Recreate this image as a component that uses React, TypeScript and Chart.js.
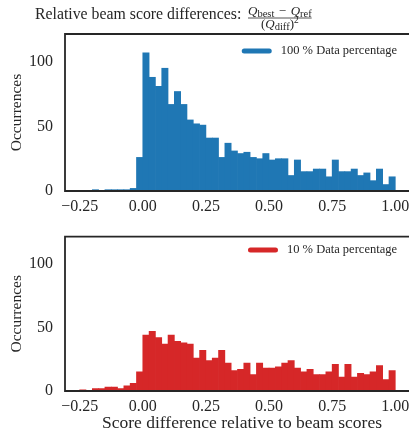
import React, { useEffect, useRef } from "react";
import { Chart, registerables } from "chart.js";

Chart.register(...registerables);

// ---- data ----
const binCenters = [
  -0.2875, -0.2625, -0.2375, -0.2125, -0.1875, -0.1625, -0.1375, -0.1125, -0.0875, -0.0625, -0.0375, -0.0125,
  0.0125, 0.0375, 0.0625, 0.0875, 0.1125, 0.1375, 0.1625, 0.1875, 0.2125, 0.2375,
  0.2625, 0.2875, 0.3125, 0.3375, 0.3625, 0.3875, 0.4125, 0.4375, 0.4625, 0.4875,
  0.5125, 0.5375, 0.5625, 0.5875, 0.6125, 0.6375, 0.6625, 0.6875, 0.7125, 0.7375,
  0.7625, 0.7875, 0.8125, 0.8375, 0.8625, 0.8875, 0.9125, 0.9375, 0.9625, 0.9875,
];

const counts100 = [
  0, 0, 0, 0, 1, 0, 1, 1, 1, 1, 2, 26,
  107, 88, 81, 95, 67, 77, 67, 55, 52, 51,
  41, 41, 26, 37, 31, 29, 30, 26, 25, 29,
  24, 25, 25, 12, 24, 15, 15, 17, 17, 11,
  24, 15, 15, 17, 12, 14, 8, 17, 5, 11,
];

const counts10 = [
  0, 0, 1, 0, 2, 2, 3, 3, 2, 4, 6, 15,
  44, 47, 42, 37, 44, 39, 38, 37, 26, 32,
  24, 26, 32, 22, 16, 17, 22, 13, 22, 18,
  18, 19, 22, 24, 18, 15, 17, 13, 13, 15,
  21, 11, 21, 11, 14, 13, 15, 20, 9, 16,
];

const xTickValues = [-0.25, 0, 0.25, 0.5, 0.75, 1.0];
const xTickLabels = ["\u22120.25", "0.00", "0.25", "0.50", "0.75", "1.00"];
const yTickValues = [0, 50, 100];
const yTickLabels = ["0", "50", "100"];

const titleText = "Relative beam score differences:";
const yAxisLabel = "Occurrences";
const xAxisLabel = "Score difference relative to beam scores";
const legend100 = "100 % Data percentage";
const legend10 = "10 % Data percentage";

// ---- styles ----
const FONT = '"Liberation Serif", "Times New Roman", serif';
const TEXT = "#262626";
const SPINE = "#262626";
const BLUE = "#1f77b4";
const RED = "#d62728";
const X_MIN = -0.3081;
const X_MAX = 1.0939;
const Y_MAX = 121.5;
const CANVAS_W = 419;

type Run = { t: string; size: number; italic?: boolean; dy?: number; gap?: number };

function drawRuns(ctx: CanvasRenderingContext2D, runs: Run[], x: number, baseline: number, draw: boolean) {
  let cx = x;
  for (const r of runs) {
    ctx.font = `${r.italic ? "italic " : ""}${r.size}px ${FONT}`;
    if (draw) ctx.fillText(r.t, cx, baseline + (r.dy || 0));
    cx += ctx.measureText(r.t).width + (r.gap || 0);
  }
  return cx - x;
}

const titlePlugin = {
  id: "figTitle",
  afterDraw(chart: any) {
    const ctx: CanvasRenderingContext2D = chart.ctx;
    ctx.save();
    ctx.fillStyle = TEXT;
    ctx.textAlign = "left";
    ctx.textBaseline = "alphabetic";
    ctx.font = `15.8px ${FONT}`;
    ctx.fillText(titleText, 35, 18.5);
    const num: Run[] = [
      { t: "Q", size: 13, italic: true },
      { t: "best", size: 10.5, dy: 2, gap: 4.5 },
      { t: "\u2212", size: 13, gap: 4.5 },
      { t: "Q", size: 13, italic: true },
      { t: "ref", size: 10.5, dy: 2 },
    ];
    const den: Run[] = [
      { t: "(", size: 13 },
      { t: "Q", size: 13, italic: true },
      { t: "diff", size: 10.5, dy: 2 },
      { t: ")", size: 13 },
      { t: "2", size: 9.5, dy: -5 },
    ];
    const x0 = 248;
    const wn = drawRuns(ctx, num, x0, 15, false);
    const wd = drawRuns(ctx, den, 0, 0, false);
    const w = Math.max(wn, wd);
    drawRuns(ctx, num, x0 + (w - wn) / 2, 14.5, true);
    drawRuns(ctx, den, x0 + (w - wd) / 2, 28, true);
    ctx.strokeStyle = TEXT;
    ctx.lineWidth = 0.8;
    ctx.beginPath();
    ctx.moveTo(x0, 18);
    ctx.lineTo(x0 + w, 18);
    ctx.stroke();
    ctx.restore();
  },
};

const spinesPlugin = {
  id: "spines",
  afterDatasetsDraw(chart: any) {
    const { ctx, chartArea } = chart;
    const { left, top, right, bottom } = chartArea;
    ctx.save();
    ctx.strokeStyle = SPINE;
    ctx.lineWidth = 1.8;
    ctx.beginPath();
    ctx.moveTo(right, top);
    ctx.lineTo(left, top);
    ctx.lineTo(left, bottom);
    ctx.lineTo(right, bottom);
    ctx.stroke();
    ctx.restore();
  },
};

function legendPlugin(text: string, color: string, cy: number) {
  return {
    id: "customLegend",
    afterDraw(chart: any) {
      const ctx: CanvasRenderingContext2D = chart.ctx;
      ctx.save();
      ctx.font = `12.5px ${FONT}`;
      ctx.fillStyle = TEXT;
      ctx.textAlign = "right";
      ctx.textBaseline = "middle";
      const rightX = 397;
      ctx.fillText(text, rightX, cy);
      const w = ctx.measureText(text).width;
      const x1 = rightX - w - 9;
      const x0 = x1 - 30;
      ctx.strokeStyle = color;
      ctx.lineWidth = 5;
      ctx.lineCap = "round";
      ctx.beginPath();
      ctx.moveTo(x0 + 2.5, cy);
      ctx.lineTo(x1 - 2.5, cy);
      ctx.stroke();
      ctx.restore();
    },
  };
}

type PanelOpts = {
  counts: number[];
  color: string;
  legendText: string;
  legendY: number;
  padTop: number;
  xAxisHeight: number;
  showTitle: boolean;
  showXTitle: boolean;
};

function buildConfig(o: PanelOpts): any {
  const plugins: any[] = [spinesPlugin, legendPlugin(o.legendText, o.color, o.legendY)];
  if (o.showTitle) plugins.push(titlePlugin);
  return {
    type: "bar",
    data: {
      datasets: [
        {
          data: binCenters.map((x, i) => ({ x, y: o.counts[i] })),
          backgroundColor: o.color,
          borderWidth: 0,
          barPercentage: 1,
          categoryPercentage: 1,
        },
      ],
    },
    options: {
      animation: false,
      responsive: false,
      events: [],
      layout: { padding: { top: o.padTop, left: 0, right: 0, bottom: 0 } },
      plugins: {
        legend: { display: false },
        tooltip: { enabled: false },
        title: { display: false },
      },
      scales: {
        x: {
          type: "linear",
          min: X_MIN,
          max: X_MAX,
          offset: false,
          grid: { display: false, drawTicks: false },
          border: { display: false },
          afterBuildTicks: (s: any) => {
            s.ticks = xTickValues.map((v) => ({ value: v }));
          },
          afterFit: (s: any) => {
            s.height = o.xAxisHeight;
          },
          ticks: {
            callback: (_v: any, i: number) => xTickLabels[i],
            font: { family: FONT, size: 16 },
            color: TEXT,
            padding: 6,
            maxRotation: 0,
            autoSkip: false,
          },
          title: {
            display: o.showXTitle,
            text: xAxisLabel,
            font: { family: FONT, size: 17.5 },
            color: TEXT,
            padding: { top: 0, bottom: 2.5 },
          },
        },
        y: {
          min: 0,
          max: Y_MAX,
          grid: { display: false, drawTicks: false },
          border: { display: false },
          afterBuildTicks: (s: any) => {
            s.ticks = yTickValues.map((v) => ({ value: v }));
          },
          afterFit: (s: any) => {
            s.width = 65;
          },
          ticks: {
            callback: (_v: any, i: number) => yTickLabels[i],
            font: { family: FONT, size: 16 },
            color: TEXT,
            padding: 12,
          },
          title: {
            display: true,
            text: yAxisLabel,
            font: { family: FONT, size: 15.5 },
            color: TEXT,
            padding: { top: 7.5, bottom: 0 },
          },
        },
      },
    },
    plugins,
  };
}

export default function App() {
  const topRef = useRef<HTMLCanvasElement>(null);
  const botRef = useRef<HTMLCanvasElement>(null);

  useEffect(() => {
    const c1 = new Chart(
      topRef.current as HTMLCanvasElement,
      buildConfig({
        counts: counts100,
        color: BLUE,
        legendText: legend100,
        legendY: 51,
        padTop: 34,
        xAxisHeight: 24,
        showTitle: true,
        showXTitle: false,
      })
    );
    const c2 = new Chart(
      botRef.current as HTMLCanvasElement,
      buildConfig({
        counts: counts10,
        color: RED,
        legendText: legend10,
        legendY: 35,
        padTop: 19,
        xAxisHeight: 45,
        showTitle: false,
        showXTitle: true,
      })
    );
    return () => {
      c1.destroy();
      c2.destroy();
    };
  }, []);

  return (
    <div
      style={{
        position: "fixed",
        left: 0,
        top: 0,
        width: 409,
        height: 436,
        overflow: "hidden",
        background: "#fff",
      }}
    >
      <canvas
        ref={topRef}
        width={CANVAS_W}
        height={215}
        style={{ position: "absolute", left: 0, top: 0, display: "block" }}
      />
      <canvas
        ref={botRef}
        width={CANVAS_W}
        height={221}
        style={{ position: "absolute", left: 0, top: 215, display: "block" }}
      />
    </div>
  );
}
